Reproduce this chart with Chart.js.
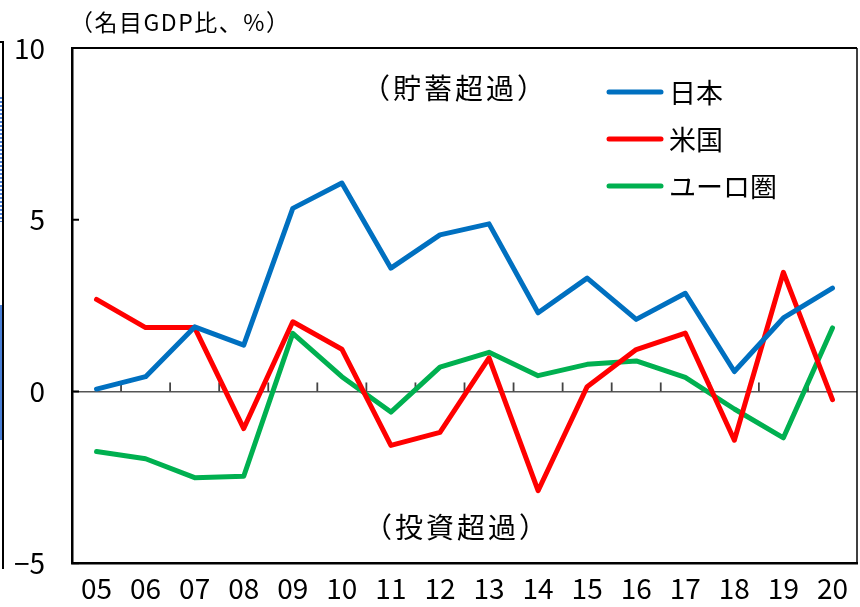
<!DOCTYPE html>
<html>
<head>
<meta charset="utf-8">
<script src="https://cdn.jsdelivr.net/npm/chart.js@4/dist/chart.umd.min.js"></script>
<style>
  html, body { margin: 0; padding: 0; background: #fff; }
  #wrap { position: relative; width: 860px; height: 607px; }
  /* sliver of the neighbouring chart at the left edge */
  #edge { position: absolute; left: 0; top: 41px; width: 2px; height: 526px;
          border-right: 2px solid #000; border-top: 2px solid #000; }
  #edge .hatch { position: absolute; left: 0; top: 54px; width: 2px; height: 125px;
          background: repeating-linear-gradient(180deg, #4a7fd6 0 2px, #fff 2px 4px); }
  #edge .solid { position: absolute; left: 0; top: 262px; width: 2px; height: 135px; background: #4a7fd6; }
</style>
</head>
<body>
<div id="wrap">
  <canvas id="chart" width="860" height="607"></canvas>
  <div id="edge"><div class="hatch"></div><div class="solid"></div></div>
</div>
<script>
// ---- data (名目GDP比、%) ----
var years = ["05", "06", "07", "08", "09", "10", "11", "12", "13", "14", "15", "16", "17", "18", "19", "20"];
var japan = [0.07, 0.43, 1.88, 1.35, 5.33, 6.07, 3.59, 4.56, 4.88, 2.29, 3.30, 2.10, 2.86, 0.58, 2.14, 3.01];
var usa   = [2.68, 1.86, 1.86, -1.08, 2.03, 1.23, -1.57, -1.19, 0.98, -2.89, 0.14, 1.22, 1.70, -1.42, 3.47, -0.24];
var euro  = [-1.75, -1.96, -2.51, -2.47, 1.69, 0.43, -0.60, 0.71, 1.14, 0.46, 0.79, 0.89, 0.41, -0.51, -1.35, 1.85];
var yTicks = [-5, 0, 5, 10];

var unitLabel = "（名目GDP比、%）";
var upperNote = "（貯蓄超過）";
var lowerNote = "（投資超過）";

var JP = '"Noto Sans CJK JP", "Noto Sans", sans-serif';

function series(label, data, color) {
    return {
        label: label,
        data: data,
        borderColor: color,
        backgroundColor: color,
        borderWidth: 5,
        borderCapStyle: 'round',
        borderJoinStyle: 'round',
        pointRadius: 0,
        tension: 0,
        fill: false
    };
}

//- frame, inner ticks, zero-line ticks -
var framePlugin = {
    id: 'frame',
    beforeDatasetsDraw: function (chart) {
        var ctx = chart.ctx, a = chart.chartArea;
        var x = chart.scales.x, y = chart.scales.y;
        var y0 = y.getPixelForValue(0);
        ctx.save();
        // small ticks on the zero line between years
        ctx.strokeStyle = '#444';
        ctx.lineWidth = 1.8;
        for (var i = 0; i < years.length - 1; i++) {
            var bx = (x.getPixelForValue(i) + x.getPixelForValue(i + 1)) / 2;
            ctx.beginPath();
            ctx.moveTo(bx, y0);
            ctx.lineTo(bx, y0 - 9);
            ctx.stroke();
        }
        // inward ticks on the value axis
        ctx.strokeStyle = '#000';
        ctx.lineWidth = 2;
        yTicks.forEach(function (v) {
            var py = y.getPixelForValue(v);
            ctx.beginPath();
            ctx.moveTo(a.left, py);
            ctx.lineTo(a.left + 7, py);
            ctx.stroke();
        });
        ctx.restore();
    },
    afterDraw: function (chart) {
        var ctx = chart.ctx, a = chart.chartArea;
        ctx.save();
        // top and right border of the plot
        ctx.strokeStyle = '#000';
        ctx.lineWidth = 2;
        ctx.beginPath();
        ctx.moveTo(a.left, a.top);
        ctx.lineTo(a.right, a.top);
        ctx.stroke();
        ctx.lineWidth = 1.5;
        ctx.beginPath();
        ctx.moveTo(a.right, a.top);
        ctx.lineTo(a.right, a.bottom);
        ctx.stroke();

        // unit label
        ctx.fillStyle = '#000';
        ctx.textBaseline = 'middle';
        ctx.textAlign = 'left';
        ctx.font = '23px ' + JP;
        ctx.letterSpacing = '1.5px';
        ctx.fillText(unitLabel, 70, 22);

        // notes
        ctx.textAlign = 'center';
        ctx.font = '28px ' + JP;
        ctx.letterSpacing = '3px';
        ctx.fillText(upperNote, 455, 88);
        ctx.fillText(lowerNote, 457, 527);

        // legend
        ctx.font = '27px ' + JP;
        ctx.letterSpacing = '0px';
        ctx.textAlign = 'left';
        chart.data.datasets.forEach(function (ds, i) {
            var ly = 92 + i * 47;
            ctx.strokeStyle = ds.borderColor;
            ctx.lineWidth = 5;
            ctx.lineCap = 'round';
            ctx.beginPath();
            ctx.moveTo(609, ly);
            ctx.lineTo(661, ly);
            ctx.stroke();
            ctx.fillStyle = '#000';
            ctx.fillText(ds.label, 669, ly + 1);
        });
        ctx.restore();
    }
};

var chart = new Chart(document.getElementById('chart').getContext('2d'), {
    type: 'line',
    data: {
        labels: years,
        datasets: [
            series('日本', japan, '#0070C0'),
            series('米国', usa, '#FF0000'),
            series('ユーロ圏', euro, '#00B050')
        ]
    },
    options: {
        responsive: false,
        animation: false,
        layout: { padding: { top: 48, right: 3, left: 0, bottom: 0 } },
        plugins: {
            legend: { display: false },
            tooltip: { enabled: false }
        },
        scales: {
            x: {
                offset: true,
                grid: { display: true, color: 'rgba(0,0,0,0)', drawTicks: false, offset: true },
                border: { display: true, color: '#000', width: 2.5 },
                ticks: {
                    color: '#000',
                    padding: 8,
                    maxRotation: 0,
                    autoSkip: false,
                    font: { family: JP, size: 28 }
                },
                afterFit: function (scale) { scale.height = 42; }
            },
            y: {
                min: -5,
                max: 10,
                afterBuildTicks: function (scale) {
                    scale.ticks = yTicks.map(function (v) { return { value: v }; });
                },
                grid: {
                    drawTicks: false,
                    color: function (c) { return c.tick && c.tick.value === 0 ? '#555' : 'rgba(0,0,0,0)'; },
                    lineWidth: 1.5
                },
                border: { display: true, color: '#000', width: 2.5 },
                ticks: {
                    color: '#000',
                    padding: 27,
                    font: { family: JP, size: 28 },
                    callback: function (v) { return String(v).replace('-', '−'); }
                },
                afterFit: function (scale) { scale.width = 72; }
            }
        }
    },
    plugins: [framePlugin]
});
</script>
</body>
</html>
